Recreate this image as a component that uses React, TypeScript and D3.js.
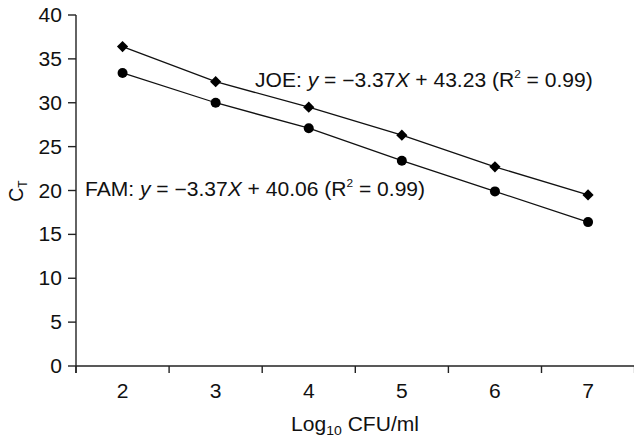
import React from "react";
import * as d3 from "d3";

const categories = ["2", "3", "4", "5", "6", "7"];
const joeValues = [36.4, 32.4, 29.5, 26.3, 22.7, 19.5];
const famValues = [33.4, 30.0, 27.1, 23.4, 19.9, 16.4];
const yTicks = [0, 5, 10, 15, 20, 25, 30, 35, 40];

const W = 634;
const H = 438;
const left = 76;
const right = 634;
const top = 15;
const bottom = 366;
const FONT = "'Liberation Sans', Arial, sans-serif";
const FS = 19.5;
const SX = 1.08;

function T({ x, y, anchor = "start", children, fs = FS }: any) {
  return (
    <g transform={`translate(${x},${y}) scale(${SX},1)`}>
      <text x={0} y={0} textAnchor={anchor} fontSize={fs} fill="#111">
        {children}
      </text>
    </g>
  );
}

export default function App() {
  const x = d3.scaleBand<string>().domain(categories).range([left, right + 0.6]).padding(0);
  const y = d3.scaleLinear().domain([0, 40]).range([bottom, top]);
  const cx = (c: string) => (x(c) as number) + x.bandwidth() / 2;

  const line = d3
    .line<number>()
    .x((_, i) => cx(categories[i]))
    .y((d) => y(d));

  const diamond = d3.symbol().type(d3.symbolDiamond2 || d3.symbolDiamond).size(80)();
  const boundaries = categories.map((c) => x(c) as number).concat([right + 0.6]);

  return (
    <svg
      width={W}
      height={H}
      style={{ position: "absolute", left: 0, top: 0, background: "#fff" }}
      fontFamily={FONT}
    >
      <rect width={W} height={H} fill="#fff" />
      {/* y axis */}
      <line x1={left} x2={left} y1={top} y2={bottom + 7} stroke="#222" strokeWidth={1.4} />
      {yTicks.map((t) => (
        <g key={t}>
          <line x1={left - 8} x2={left} y1={y(t)} y2={y(t)} stroke="#222" strokeWidth={1.4} />
          <T x={62} y={y(t) + 7} anchor="end">
            {t}
          </T>
        </g>
      ))}
      {/* x axis */}
      <line x1={left} x2={W} y1={bottom} y2={bottom} stroke="#222" strokeWidth={1.4} />
      {boundaries.map((b, i) => (
        <line key={i} x1={b} x2={b} y1={bottom} y2={bottom + 7} stroke="#222" strokeWidth={1.4} />
      ))}
      {categories.map((c) => (
        <T key={c} x={cx(c)} y={398} anchor="middle">
          {c}
        </T>
      ))}
      {/* axis titles */}
      <T x={355} y={431} anchor="middle">
        Log<tspan fontSize={13} dy={4}>10</tspan>
        <tspan dy={-4}> CFU/ml</tspan>
      </T>
      <g transform={`translate(23, 191) rotate(-90)`}>
        <text x={0} y={0} textAnchor="middle" fontSize={FS} fill="#111">
          C<tspan fontSize={12} dy={4}>T</tspan>
        </text>
      </g>
      {/* series */}
      <path d={line(joeValues) || ""} fill="none" stroke="#111" strokeWidth={1.3} />
      <path d={line(famValues) || ""} fill="none" stroke="#111" strokeWidth={1.3} />
      {joeValues.map((v, i) => (
        <path key={"j" + i} d={diamond || ""} transform={`translate(${cx(categories[i])},${y(v)})`} fill="#000" />
      ))}
      {famValues.map((v, i) => (
        <circle key={"f" + i} cx={cx(categories[i])} cy={y(v)} r={5} fill="#000" />
      ))}
      {/* annotations */}
      <T x={255} y={87}>
        JOE: <tspan fontStyle="italic">y</tspan> = −3.37<tspan fontStyle="italic">X</tspan> + 43.23 (R
        <tspan fontSize={11} dy={-9}>2</tspan>
        <tspan dy={9}> = 0.99)</tspan>
      </T>
      <T x={85} y={195.5}>
        FAM: <tspan fontStyle="italic">y</tspan> = −3.37<tspan fontStyle="italic">X</tspan> + 40.06 (R
        <tspan fontSize={11} dy={-9}>2</tspan>
        <tspan dy={9}> = 0.99)</tspan>
      </T>
    </svg>
  );
}
